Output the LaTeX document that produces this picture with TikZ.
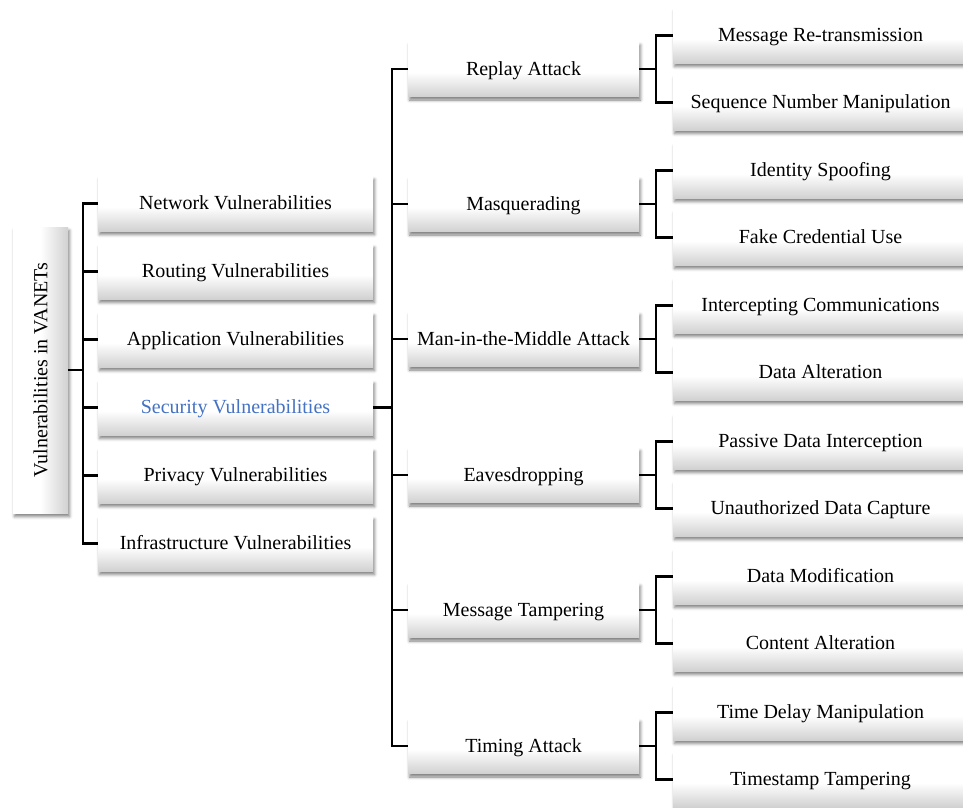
\documentclass[tikz,border=0pt]{standalone}
\usepackage{fontspec}
\usepackage{graphicx}
\setmainfont{Liberation Serif}
\usetikzlibrary{shadows.blur}

% soft fade used on every card: white on top, light grey towards the bottom
\pgfdeclareverticalshading{boxfade}{100bp}{color(0bp)=(black!18); color(25bp)=(black!18); color(47bp)=(white); color(100bp)=(white)}
% same fade running left to right for the upright root card
\pgfdeclarehorizontalshading{rootfade}{100bp}{color(0bp)=(white); color(50bp)=(white); color(75bp)=(black!18); color(100bp)=(black!18)}
\definecolor{accentblue}{RGB}{68,114,196}

\begin{document}
\begin{tikzpicture}[x=1pt,y=-1pt,
  card/.style={shading=boxfade, inner sep=0pt, minimum height=55pt,
    blur shadow={shadow xshift=1.5pt, shadow yshift=-3.5pt, shadow blur radius=3pt, shadow opacity=50},
    font=\fontsize{20}{24}\selectfont, text=black, text height=15pt, text depth=3pt},
  rootbox/.style={card, shading=rootfade, minimum width=55pt, minimum height=286pt,
    text height=, text depth=},
  lvlone/.style={card, minimum width=275pt},
  lvltwo/.style={card, minimum width=231pt},
  lvlthree/.style={card, minimum width=295pt},
  link/.style={line width=2.3pt, line join=miter, draw=black}]

\useasboundingbox (0,0) rectangle (963,807);
\clip (0,0) rectangle (963,807);

% root
\node[rootbox] (root) at (40.5,370) {\rotatebox{90}{Vulnerabilities in VANETs}};

% first level
\node[lvlone] (net)   at (235.5,203.5) {Network Vulnerabilities};
\node[lvlone] (rout)  at (235.5,271.5) {Routing Vulnerabilities};
\node[lvlone] (app)   at (235.5,339.5) {Application Vulnerabilities};
\node[lvlone, text=accentblue] (sec) at (235.5,407.5) {Security Vulnerabilities};
\node[lvlone] (priv)  at (235.5,475.5) {Privacy Vulnerabilities};
\node[lvlone] (infra) at (235.5,543.5) {Infrastructure Vulnerabilities};

% second level
\node[lvltwo] (replay) at (523.5,69)    {Replay Attack};
\node[lvltwo] (masq)   at (523.5,204)   {Masquerading};
\node[lvltwo] (mitm)   at (523.5,339)   {Man-in-the-Middle Attack};
\node[lvltwo] (eaves)  at (523.5,475)   {Eavesdropping};
\node[lvltwo] (tamp)   at (523.5,610)   {Message Tampering};
\node[lvltwo] (timing) at (523.5,746)   {Timing Attack};

% third level
\node[lvlthree] (retx)   at (820.5,35.5)  {Message Re-transmission};
\node[lvlthree] (seqn)   at (820.5,102.5) {Sequence Number Manipulation};
\node[lvlthree] (ident)  at (820.5,170.5) {Identity Spoofing};
\node[lvlthree] (fake)   at (820.5,237.5) {Fake Credential Use};
\node[lvlthree] (intc)   at (820.5,305.5) {Intercepting Communications};
\node[lvlthree] (dalt)   at (820.5,372.5) {Data Alteration};
\node[lvlthree] (passv)  at (820.5,441.5) {Passive Data Interception};
\node[lvlthree] (unauth) at (820.5,508.5) {Unauthorized Data Capture};
\node[lvlthree] (dmod)   at (820.5,576.5) {Data Modification};
\node[lvlthree] (cont)   at (820.5,643.5) {Content Alteration};
\node[lvlthree] (tdelay) at (820.5,712.5) {Time Delay Manipulation};
\node[lvlthree] (tstamp) at (820.5,779.5) {Timestamp Tampering};

% root -> first level
\coordinate (hubroot) at (83,370);
\draw[link] (root.east) -- (hubroot);
\foreach \n in {net,rout,app,sec,priv,infra}
  \draw[link] (hubroot) |- (\n.west);

% security -> attacks
\coordinate (hubsec) at (392,407.5);
\draw[link] (sec.east) -- (hubsec);
\foreach \n in {replay,masq,mitm,eaves,tamp,timing}
  \draw[link] (hubsec) |- (\n.west);

% attacks -> techniques
\foreach \p/\a/\b in {replay/retx/seqn, masq/ident/fake, mitm/intc/dalt,
                      eaves/passv/unauth, tamp/dmod/cont, timing/tdelay/tstamp}{
  \coordinate (hub\p) at ([xshift=17pt]\p.east);
  \draw[link] (\p.east) -- (hub\p);
  \draw[link] (hub\p) |- (\a.west);
  \draw[link] (hub\p) |- (\b.west);
}
\end{tikzpicture}
\end{document}
